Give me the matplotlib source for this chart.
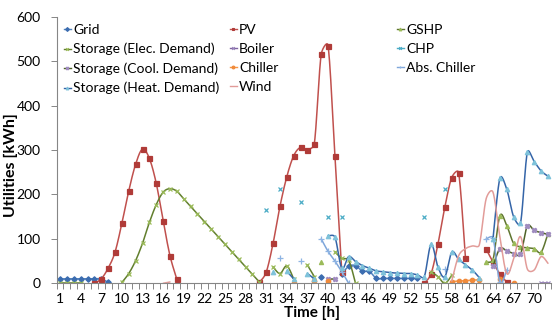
import numpy as np
import matplotlib
matplotlib.use("Agg")
import matplotlib.pyplot as plt
from matplotlib.lines import Line2D

plt.rcParams['font.family'] = ['Lato', 'DejaVu Sans']

N = None
hours = list(range(1, 73))
tick_hours = list(range(1, 71, 3))
y_ticks = list(range(0, 601, 100))

# hourly utilities [kWh], blank cells = None (rows of 12 hours)
grid = [10, 10, 10, 10, 10, 10, 10, 2, N, N, N, N,
        N, N, N, N, N, N, N, N, N, N, N, N,
        N, N, N, N, N, N, N, N, N, N, N, N,
        N, N, 14, N, N, 21, 38, 40, 27, 27, 11, 11,
        11, 11, 11, 11, 11, N, N, N, N, N, N, N,
        N, N, N, N, N, N, N, N, N, N, N, N]
pv = [N, N, N, N, N, 0, 10, 34, 70, 135, 208, 268,
      302, 281, 225, 141, 62, 9, N, N, N, N, N, N,
      N, N, N, N, N, 2, 25, 90, 173, 240, 287, 306,
      301, 314, 515, 535, 287, 25, N, N, N, N, N, N,
      N, N, N, N, N, 0, 22, 89, 172, 238, 249, 56,
      N, N, 77, 48, 21, 3, N, N, N, N, N, N]
gshp = [N, N, N, N, N, N, N, N, N, N, N, N,
        N, N, N, N, N, N, N, N, N, N, N, N,
        N, N, N, N, N, N, N, N, N, N, N, N,
        N, N, 48, N, N, N, N, N, N, N, N, N,
        N, N, N, N, N, N, N, N, N, N, N, N,
        N, N, 47, 53, 152, 130, 90, 82, 80, 78, 70, 112]
storage_elec = [0, 0, 0, 0, N, N, N, N, N, 2, 22, 51,
                90, 137, 177, 205, 213, 207, 190, 173, 156, 139, 122, 105,
                88, 71, 54, 37, 20, 3, N, 37, 22, 39, 10, N,
                41, 15, N, N, 71, 56, 52, 0, N, N, N, N,
                N, N, N, N, N, N, 26, 15, 0, 18, N, N,
                N, N, N, N, N, N, N, N, N, N, N, N]
boiler = [N, N, N, N, N, N, N, N, N, N, N, N,
          N, N, N, N, N, N, N, N, N, N, N, N,
          N, N, N, N, N, N, N, N, N, N, N, N,
          N, N, N, N, N, N, N, N, N, N, N, N,
          N, N, N, N, N, N, N, N, N, N, N, N,
          N, N, N, N, N, N, N, N, N, N, 0, 0]
chp = [N, N, N, N, N, N, N, N, N, N, N, N,
       N, N, N, N, N, N, N, N, N, N, N, N,
       N, N, N, N, N, N, 165, N, 212, N, N, 182,
       N, N, N, 149, N, 149, N, N, N, N, N, N,
       N, N, N, N, N, 149, N, N, 212, N, N, N,
       N, N, N, N, N, N, N, N, N, N, N, N]
storage_cool = [N, N, N, N, N, N, N, N, N, N, N, N,
                N, N, N, N, N, N, N, N, N, N, N, N,
                N, N, N, N, N, N, N, N, N, N, N, N,
                N, 3, N, 10, 10, N, N, N, N, N, N, N,
                N, N, N, N, N, N, N, N, N, N, N, N,
                N, N, N, 38, 78, 73, 67, 65, 129, 119, 114, 110]
chiller = [N, N, N, N, N, N, N, N, N, N, N, N,
           N, N, N, N, N, N, N, N, N, N, N, N,
           N, N, N, N, N, N, N, N, N, N, 0, N,
           N, 5, N, 5, N, N, N, N, N, N, N, N,
           N, N, N, N, N, N, N, N, N, 4, 5, 6,
           7, 8, N, N, 10, N, 0, N, N, N, N, N]
abs_chiller = [N, N, N, N, N, N, N, N, N, N, N, N,
               N, N, N, N, N, N, N, N, N, N, N, N,
               N, N, N, N, N, N, N, N, 58, N, N, 51,
               N, N, 100, 72, 50, 26, 0, N, N, N, N, N,
               N, N, N, N, N, N, N, N, 32, N, N, N,
               N, N, 100, 102, 3, 30, N, N, N, N, N, N]
storage_heat = [N, N, N, N, N, N, N, N, N, N, N, N,
                N, N, N, N, N, N, N, N, N, N, N, N,
                N, N, N, N, N, N, N, 25, N, 27, 10, N,
                22, 10, N, 107, 104, 34, 60, 49, 40, 34, 28, 26,
                24, 23, 22, 22, 19, 15, 88, 36, 15, 70, 54, 42,
                30, 13, N, 100, 236, 212, 150, 135, 295, 274, 253, 241]
wind = [N, N, N, N, N, N, N, N, N, N, N, N,
        N, N, N, 0, 3, N, N, N, N, N, N, N,
        N, N, N, N, N, N, N, N, N, N, N, N,
        N, N, N, N, N, N, N, N, N, N, N, N,
        N, N, N, N, N, N, N, N, N, 5, 62, 78,
        84, 86, 190, 205, 105, 22, 55, 105, 32, 30, 60, 45]

# (label, values, line colour, marker, marker colour, marker size)
series = [
    ("Grid", grid, "#4F81BD", "D", "#3C6DB0", 2.8),
    ("PV", pv, "#C0504D", "s", "#B03B38", 3.6),
    ("GSHP", gshp, "#5F7530", "^", "#9BBB59", 3.0),
    ("Storage (Elec. Demand)", storage_elec, "#627F2E", "x", "#9BBB59", 2.2),
    ("Boiler", boiler, "#8064A2", "x", "#9A86BC", 3.0),
    ("CHP", chp, "#4BACC6", "x", "#4BACC6", 3.5),
    ("Storage (Cool. Demand)", storage_cool, "#4F6228", "X", "#A08CC0", 3.2),
    ("Chiller", chiller, "#F79646", "o", "#F08A3A", 3.2),
    ("Abs. Chiller", abs_chiller, "#7FA6DA", "+", "#8EB4E3", 4.0),
    ("Storage (Heat. Demand)", storage_heat, "#3565A8", "^", "#7EC2DA", 3.2),
    ("Wind", wind, "#E29C99", "", "#E29C99", 3.0),
]

W, H = 555, 320
x0, x1, ytop, ybot = 56.6, 551.4, 16.7, 283.3
SX = (x1 - x0) / 72.0          # pixels per hour
SY = (ybot - ytop) / 600.0     # pixels per kWh


def runs_of(vals):
    runs, cur = [], []
    for h, v in zip(hours, vals):
        if v is None:
            if cur:
                runs.append(cur)
            cur = []
        else:
            cur.append((h, v))
    if cur:
        runs.append(cur)
    return runs


def smooth(run, n=24, k=0.5):
    # Excel-like smoothed line: Bezier with Catmull-Rom tangents,
    # handle length capped relative to the segment (in screen units)
    p = np.array(run, float) * [SX, SY]
    ext = np.vstack([p[0], p, p[-1]])
    t = np.linspace(0, 1, n)[1:, None]
    out = [p[:1]]
    for i in range(len(p) - 1):
        p0, p1 = ext[i + 1], ext[i + 2]
        seg = np.linalg.norm(p1 - p0)
        d1 = (ext[i + 2] - ext[i]) / 6
        d2 = (ext[i + 3] - ext[i + 1]) / 6
        for d in (d1, d2):
            ln = np.linalg.norm(d)
            if ln > k * seg and ln > 0:
                d *= k * seg / ln
        c1, c2 = p0 + d1, p1 - d2
        out.append((1 - t) ** 3 * p0 + 3 * (1 - t) ** 2 * t * c1
                   + 3 * (1 - t) * t ** 2 * c2 + t ** 3 * p1)
    return np.vstack(out) / [SX, SY]


fig = plt.figure(figsize=(W / 100, H / 100), dpi=100)
ax = fig.add_axes([x0 / W, 1 - ybot / H, (x1 - x0) / W, (ybot - ytop) / H])

for label, vals, lc, mk, mc, ms in series:
    for run in runs_of(vals):
        if len(run) > 1:
            path = smooth(run)
            ax.plot(path[:, 0], path[:, 1], color=lc, lw=1.1, solid_capstyle="round")
        if mk:
            hx = [r[0] for r in run]
            hy = [r[1] for r in run]
            ax.plot(hx, hy, ls="none", marker=mk, ms=ms, color=mc, mec=mc, mew=0.9)

ax.set_xlim(0.5, 72.5)
ax.set_ylim(0, 600)
ax.set_xticks(tick_hours)
ax.set_xticklabels([str(h) for h in tick_hours])
ax.set_xticks(np.arange(0.5, 73, 1), minor=True)
ax.set_yticks(y_ticks)
gray = "#868686"
ax.tick_params(axis="x", which="major", length=0, pad=7, labelsize=10)
ax.tick_params(axis="x", which="minor", length=4, color=gray, width=0.7)
ax.tick_params(axis="y", length=4, color=gray, width=0.7, pad=7.5, labelsize=10)
for s in ("top", "right"):
    ax.spines[s].set_visible(False)
for s in ("left", "bottom"):
    ax.spines[s].set_color(gray)
    ax.spines[s].set_linewidth(0.8)

fig.text(312 / W, 1 - 313 / H, "Time [h]", ha="center", va="center",
         fontsize=11, fontweight="bold")
fig.text(11 / W, 1 - 165 / H, "Utilities [kWh]", ha="center", va="center",
         rotation=90, fontsize=11.5, fontweight="bold")

# legend: three fixed-width columns, filled row by row
handles = {}
for label, vals, lc, mk, mc, ms in series:
    handles[label] = Line2D([], [], color=lc, lw=1.0, marker=mk or None,
                            ms=2.0, mfc=mc, mec=mc, mew=0.8)
columns = [["Grid", "Storage (Elec. Demand)", "Storage (Cool. Demand)", "Storage (Heat. Demand)"],
           ["PV", "Boiler", "Chiller", "Wind"],
           ["GSHP", "CHP", "Abs. Chiller"]]
col_x = [64, 230, 397]
for cx, names in zip(col_x, columns):
    fig.legend([handles[n] for n in names], names, loc="upper left",
               bbox_to_anchor=(cx / W, 1 - 24 / H), frameon=False,
               fontsize=10, handlelength=0.5, handletextpad=0.15,
               labelspacing=0.5, borderpad=0, borderaxespad=0)

fig.savefig("out.png", dpi=100)
